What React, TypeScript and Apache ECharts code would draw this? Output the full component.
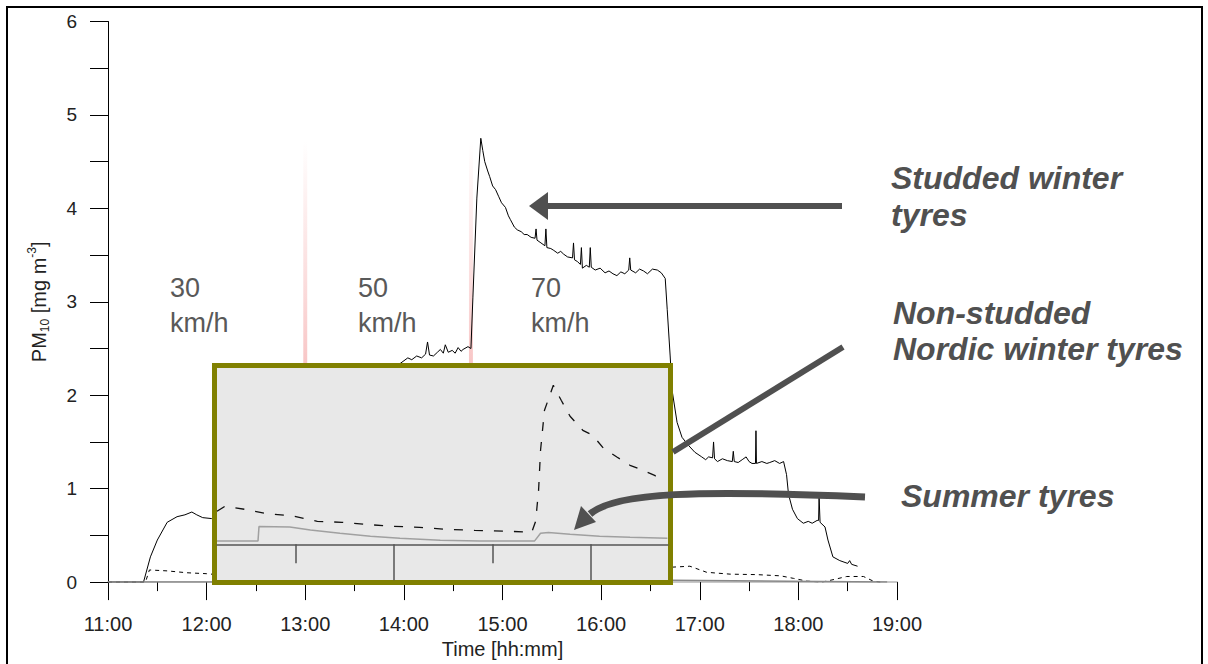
import React, { useEffect, useRef } from "react";
import * as echarts from "echarts";

const FONT = '"Liberation Sans", Arial, Helvetica, sans-serif';

// Main chart (time in decimal hours, PM10 in mg m-3)
const studded: number[][] = [
  [11.0, 0], [11.36, 0], [11.43, 0.27], [11.5, 0.45], [11.6, 0.64], [11.7, 0.7], [11.78, 0.72], [11.85, 0.75], [11.9, 0.72],
  [11.96, 0.69], [12.05, 0.68],
  [12.3, 0.66], [12.6, 0.64], [12.95, 0.63], [13.02, 1.2], [13.1, 2.0], [13.4, 2.2], [13.7, 2.28], [13.95, 2.33],
  [14.04, 2.4], [14.08, 2.38], [14.13, 2.42], [14.18, 2.4], [14.22, 2.44], [14.24, 2.57], [14.26, 2.43], [14.3, 2.42],
  [14.34, 2.46], [14.37, 2.49], [14.4, 2.45], [14.42, 2.54], [14.45, 2.46], [14.49, 2.48], [14.52, 2.45], [14.55, 2.51],
  [14.58, 2.47], [14.6, 2.49], [14.65, 2.52], [14.68, 2.5], [14.7, 3.05], [14.74, 4.11],
  [14.78, 4.75], [14.8, 4.62], [14.82, 4.5], [14.85, 4.4], [14.87, 4.34], [14.9, 4.24], [14.93, 4.2], [14.96, 4.13],
  [14.99, 4.06], [15.03, 4.01], [15.06, 3.92], [15.08, 3.88], [15.12, 3.8], [15.15, 3.77], [15.19, 3.75], [15.22, 3.72],
  [15.25, 3.72], [15.29, 3.69], [15.33, 3.68], [15.34, 3.78], [15.35, 3.66], [15.39, 3.63], [15.43, 3.6], [15.44, 3.78],
  [15.45, 3.58], [15.49, 3.57], [15.52, 3.55], [15.56, 3.52], [15.59, 3.54], [15.62, 3.51], [15.66, 3.48], [15.71, 3.47],
  [15.72, 3.63], [15.73, 3.45], [15.76, 3.43], [15.79, 3.4], [15.8, 3.58], [15.81, 3.36], [15.85, 3.39], [15.88, 3.37],
  [15.89, 3.58], [15.9, 3.37], [15.94, 3.34], [15.99, 3.36], [16.04, 3.31], [16.08, 3.33], [16.12, 3.3], [16.16, 3.28],
  [16.2, 3.32], [16.24, 3.3], [16.28, 3.34], [16.29, 3.47], [16.3, 3.34], [16.35, 3.31], [16.39, 3.35], [16.43, 3.33],
  [16.47, 3.3], [16.52, 3.35], [16.57, 3.34], [16.61, 3.31], [16.65, 3.25], [16.67, 2.92], [16.7, 2.42], [16.72, 2.05],
  [16.77, 1.71], [16.82, 1.55], [16.88, 1.47], [16.95, 1.39], [17.02, 1.34], [17.06, 1.31], [17.09, 1.34], [17.13, 1.33],
  [17.14, 1.5], [17.15, 1.32], [17.18, 1.29], [17.23, 1.32], [17.28, 1.3], [17.33, 1.29], [17.34, 1.4], [17.35, 1.29],
  [17.39, 1.28], [17.43, 1.31], [17.47, 1.34], [17.5, 1.29], [17.53, 1.27], [17.565, 1.27], [17.57, 1.62], [17.575, 1.27],
  [17.63, 1.29], [17.68, 1.27], [17.71, 1.28], [17.76, 1.3], [17.81, 1.27], [17.85, 1.29], [17.88, 1.15], [17.9, 0.94],
  [17.94, 0.78], [17.99, 0.68], [18.05, 0.63], [18.1, 0.65], [18.14, 0.63], [18.19, 0.66], [18.205, 0.66], [18.21, 0.91],
  [18.22, 0.64], [18.27, 0.59], [18.3, 0.45], [18.35, 0.27], [18.42, 0.23], [18.5, 0.2], [18.52, 0.23], [18.54, 0.19],
  [18.6, 0.17],
];

const nonStudded: number[][] = [
  [11.0, 0], [11.38, 0], [11.42, 0.13], [11.6, 0.12], [11.8, 0.1], [12.0, 0.09], [12.1, 0.08], [12.5, 0.07], [13.0, 0.06],
  [14.0, 0.06], [14.68, 0.07], [14.72, 0.22], [15.0, 0.25], [16.0, 0.2], [16.6, 0.17], [16.72, 0.16], [16.9, 0.17],
  [17.07, 0.105], [17.31, 0.085], [17.58, 0.08], [17.82, 0.067], [17.95, 0.04], [18.09, 0.01], [18.24, 0], [18.37, 0.03],
  [18.49, 0.06], [18.66, 0.06], [18.76, 0.01], [18.83, 0],
];

const summer: number[][] = [
  [11.0, 0], [13.0, 0], [13.05, 0.03], [14.0, 0.02], [14.68, 0.02], [14.72, 0.04], [15.5, 0.03], [16.7, 0.02], [17.9, 0.01], [18.9, 0],
];

const speedChanges: number[] = [13.0, 14.68];

// Inset (zoomed view of non-studded and summer tyres)
const insetNonStudded: number[][] = [
  [11.2, 0.33], [11.28, 0.38], [11.48, 0.35], [11.69, 0.31], [11.99, 0.28], [12.22, 0.23], [12.47, 0.22], [12.7, 0.2],
  [12.98, 0.18], [13.26, 0.17], [13.52, 0.15], [13.82, 0.14], [14.18, 0.13], [14.4, 0.12], [14.44, 0.23], [14.47, 0.54],
  [14.49, 0.94], [14.53, 1.34], [14.62, 1.59], [14.7, 1.44], [14.79, 1.28], [14.92, 1.14], [15.02, 1.09], [15.13, 0.96],
  [15.27, 0.87], [15.4, 0.79], [15.53, 0.74], [15.65, 0.69], [15.72, 0.63],
];

const insetSummer: number[][] = [
  [11.2, 0.034], [11.617, 0.034], [11.627, 0.177], [11.94, 0.174], [12.15, 0.144], [12.45, 0.11], [12.76, 0.08],
  [13.06, 0.06], [13.47, 0.04], [13.87, 0.034], [14.43, 0.034], [14.49, 0.11], [14.57, 0.117], [14.79, 0.1],
  [15.09, 0.08], [15.4, 0.07], [15.78, 0.06],
];

const insetMinorTicks: number[] = [12, 14];
const insetMajorTicks: number[] = [13, 15];

const speedLabels = [
  { text: "30\nkm/h", x: 170 },
  { text: "50\nkm/h", x: 358 },
  { text: "70\nkm/h", x: 531 },
];

export default function App() {
  const ref = useRef<HTMLDivElement>(null);

  useEffect(() => {
    if (!ref.current) return;
    const chart = echarts.init(ref.current, undefined, { renderer: "svg" });
    const annoStyle = { fontSize: 32, fontFamily: FONT, fontWeight: "bold", fontStyle: "italic", fill: "#505050" };
    const arrowColor = "#505050";

    const option: any = {
      animation: false,
      backgroundColor: "#ffffff",
      grid: [
        { left: 108, top: 21.5, width: 789, height: 567.5, show: false },
        { left: 214.5, top: 365.5, width: 456, height: 217, show: true, backgroundColor: "#e8e8e8", borderColor: "#808000", borderWidth: 5, z: 5 },
        { left: 217, top: 368, width: 451, height: 176.3, show: false, z: 6 },
      ],
      xAxis: [
        {
          gridIndex: 0, type: "value", min: 11, max: 19, interval: 1,
          axisLine: { show: true, lineStyle: { color: "#c8c8c8", width: 2 } },
          axisTick: { show: true, length: 18, lineStyle: { color: "#000", width: 1 } },
          minorTick: { show: true, splitNumber: 2, length: 9, lineStyle: { color: "#000", width: 1 } },
          splitLine: { show: false },
          axisLabel: { formatter: (v: number) => `${v}:00`, fontSize: 20, color: "#222", margin: 32, fontFamily: FONT },
          name: "Time [hh:mm]", nameLocation: "middle", nameGap: 56,
          nameTextStyle: { fontSize: 20, color: "#222", fontFamily: FONT },
        },
        {
          gridIndex: 2, type: "value", min: 11.2, max: 15.786, z: 7,
          axisLine: { show: true, lineStyle: { color: "#555", width: 1.5 } },
          axisTick: { show: true, customValues: insetMinorTicks, length: 19, lineStyle: { color: "#555", width: 1.5 } },
          axisLabel: { show: false },
          splitLine: { show: false },
        },
        {
          gridIndex: 2, type: "value", min: 11.2, max: 15.786, z: 7, position: "bottom",
          axisLine: { show: false },
          axisTick: { show: true, customValues: insetMajorTicks, length: 36, lineStyle: { color: "#555", width: 1.5 } },
          axisLabel: { show: false },
          splitLine: { show: false },
        },
      ],
      yAxis: [
        {
          gridIndex: 0, type: "value", min: 0, max: 6, interval: 1,
          axisLine: { show: true, lineStyle: { color: "#000", width: 1 } },
          axisTick: { show: true, length: 18, lineStyle: { color: "#000", width: 1 } },
          minorTick: { show: true, splitNumber: 2, length: 18, lineStyle: { color: "#000", width: 1 } },
          splitLine: { show: false },
          axisLabel: { fontSize: 19, color: "#222", margin: 31, fontFamily: FONT },
          name: "{a|PM}{s|10}{a| [mg m}{p|-3}{a|]}",
          nameLocation: "middle", nameGap: 57, nameRotate: 90,
          nameTextStyle: {
            fontFamily: FONT, color: "#222",
            rich: {
              a: { fontSize: 20, lineHeight: 25, fontFamily: FONT, color: "#222" },
              s: { fontSize: 12, lineHeight: 12, verticalAlign: "bottom", fontFamily: FONT, color: "#222" },
              p: { fontSize: 12, lineHeight: 12, verticalAlign: "top", fontFamily: FONT, color: "#222" },
            },
          },
        },
        { gridIndex: 2, type: "value", min: 0, max: 1.763, show: false },
      ],
      series: [
        {
          name: "Studded winter tyres", type: "line", xAxisIndex: 0, yAxisIndex: 0, data: studded,
          symbol: "none", lineStyle: { color: "#000", width: 1 }, z: 2,
          markArea: {
            silent: true,
            itemStyle: {
              color: new echarts.graphic.LinearGradient(0, 0, 0, 1, [
                { offset: 0, color: "rgba(240,130,130,0)" },
                { offset: 0.35, color: "rgba(240,130,130,0.3)" },
                { offset: 0.55, color: "rgba(240,130,130,0.5)" },
                { offset: 1, color: "rgba(240,130,130,0.6)" },
              ]),
            },
            data: speedChanges.map((t) => [{ xAxis: t - 0.02, yAxis: 0 }, { xAxis: t + 0.02, yAxis: 4.72 }]),
          },
        },
        {
          name: "Non-studded Nordic winter tyres", type: "line", xAxisIndex: 0, yAxisIndex: 0, data: nonStudded,
          symbol: "none", lineStyle: { color: "#000", width: 1, type: [4, 4] }, z: 2,
        },
        {
          name: "Summer tyres", type: "line", xAxisIndex: 0, yAxisIndex: 0, data: summer,
          symbol: "none", lineStyle: { color: "#888", width: 1.5 }, z: 2,
        },
        {
          name: "Speed change", type: "scatter", xAxisIndex: 0, yAxisIndex: 0,
          data: speedChanges.map((t) => [t, 0.035]),
          symbol: "rect", symbolSize: [5, 6], itemStyle: { color: "#e00000" }, z: 3, silent: true,
        },
        {
          name: "Inset non-studded", type: "line", xAxisIndex: 1, yAxisIndex: 1, data: insetNonStudded,
          symbol: "none", lineStyle: { color: "#111", width: 1.3, type: [9, 11] }, z: 8,
        },
        {
          name: "Inset summer", type: "line", xAxisIndex: 1, yAxisIndex: 1, data: insetSummer,
          symbol: "none", lineStyle: { color: "#a0a0a0", width: 1.5 }, z: 8,
        },
      ],
      graphic: [
        { type: "rect", z: 100, silent: true, shape: { x: 7, y: 7, width: 1195, height: 680 }, style: { fill: "none", stroke: "#000", lineWidth: 2 } },
        ...speedLabels.map((s) => ({
          type: "text", z: 100, x: s.x, y: 270,
          style: { text: s.text, fontSize: 27, fontFamily: FONT, fill: "#595959", lineHeight: 35, verticalAlign: "top" },
        })),
        { type: "text", z: 100, x: 891, y: 159, style: { ...annoStyle, text: "Studded winter\ntyres", lineHeight: 37, verticalAlign: "top" } },
        { type: "text", z: 100, x: 893, y: 295, style: { ...annoStyle, text: "Non-studded\nNordic winter tyres", lineHeight: 36, verticalAlign: "top" } },
        { type: "text", z: 100, x: 901, y: 496, style: { ...annoStyle, text: "Summer tyres", verticalAlign: "middle" } },
        { type: "polyline", z: 100, shape: { points: [[842, 206], [545, 206]] }, style: { stroke: arrowColor, lineWidth: 6, fill: "none" } },
        { type: "polygon", z: 100, shape: { points: [[529, 206], [548, 192], [548, 220]] }, style: { fill: arrowColor } },
        { type: "line", z: 100, shape: { x1: 843, y1: 347, x2: 673, y2: 452 }, style: { stroke: arrowColor, lineWidth: 6 } },
        { type: "bezierCurve", z: 100, shape: { x1: 865, y1: 497, cpx1: 700, cpy1: 490, cpx2: 615, cpy2: 492, x2: 590, y2: 514 }, style: { stroke: arrowColor, lineWidth: 7, fill: "none" } },
        { type: "polygon", z: 100, shape: { points: [[574, 530], [596, 522], [581, 506]] }, style: { fill: arrowColor } },
      ],
    };

    chart.setOption(option);
    return () => chart.dispose();
  }, []);

  return (
    <div
      ref={ref}
      style={{ position: "fixed", left: 0, top: 0, width: 1208, height: 664, background: "#fff" }}
    />
  );
}
